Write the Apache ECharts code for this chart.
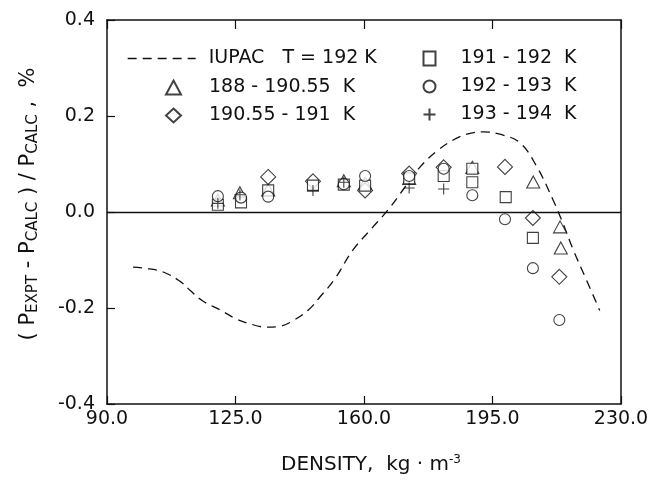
<!DOCTYPE html>
<html><head><meta charset="utf-8">
<script src="https://cdn.jsdelivr.net/npm/echarts@6/dist/echarts.min.js"></script>
<style>html,body{margin:0;padding:0;background:#fff}#c{width:652px;height:481px}</style>
</head><body><div id="c"></div>
<script>
// Axis ticks
const xTicks = [90, 125, 160, 195, 230];
const yTicks = [-0.4, -0.2, 0.0, 0.2, 0.4];

// IUPAC T = 192 K correlation (dashed curve)
const iupacDensity = [97.1, 100, 105.3, 110, 112.6, 116, 120.8, 125, 128.1, 133.6, 137.1, 141, 145, 148, 152, 157, 162, 166.5, 171, 175.3, 180, 184.3, 188, 192.4, 197, 202.5, 207.1, 211.5, 214, 217, 220.5, 224.2];
const iupacDev = [-0.115, -0.117, -0.125, -0.145, -0.163, -0.185, -0.204, -0.222, -0.231, -0.24, -0.238, -0.225, -0.203, -0.177, -0.14, -0.079, -0.035, 0.004, 0.05, 0.094, 0.128, 0.15, 0.162, 0.167, 0.162, 0.144, 0.094, 0.025, -0.02, -0.079, -0.14, -0.205];

// 188 - 190.55 K (triangles)
const triDensity = [120.2, 126.2, 133.9, 154.5, 160.3, 172.3, 189.5, 206.1, 213.4, 213.6];
const triDev = [0.025, 0.04, 0.046, 0.065, 0.06, 0.07, 0.093, 0.0625, -0.031, -0.075];

// 190.55 - 191 K (diamonds)
const diaDensity = [133.9, 146.1, 160.3, 172.3, 181.7, 198.4, 206.0, 213.2];
const diaDev = [0.073, 0.064, 0.045, 0.08, 0.093, 0.094, -0.0125, -0.135];

// 191 - 192 K (squares)
const sqDensity = [120.2, 126.5, 133.9, 146.1, 154.5, 160.3, 172.3, 181.7, 189.5, 189.5, 198.6, 206.0];
const sqDev = [0.015, 0.02, 0.045, 0.055, 0.057, 0.055, 0.07, 0.075, 0.09, 0.062, 0.031, -0.054];

// 192 - 193 K (circles)
const cirDensity = [120.2, 126.5, 133.9, 154.5, 160.3, 172.3, 181.7, 189.5, 198.4, 206.0, 213.2];
const cirDev = [0.033, 0.03, 0.032, 0.058, 0.075, 0.075, 0.09, 0.035, -0.015, -0.117, -0.225];

// 193 - 194 K (plus)
const plusDensity = [120.2, 126.2, 146.1, 154.5, 172.3, 181.7];
const plusDev = [0.018, 0.036, 0.045, 0.062, 0.05, 0.048];

const names = {
  iupac: 'IUPAC   T = 192 K',
  tri: '188 - 190.55  K',
  dia: '190.55 - 191  K',
  sq: '191 - 192  K',
  cir: '192 - 193  K',
  plus: '193 - 194  K'
};

const zip = (a, b) => a.map((v, i) => [v, b[i]]);
const FONT = 'DejaVu Sans';
const INK = '#111';
const PLUS = 'path://M5,0L5,10M0,5L10,5';

const hollow = { color: '#fff', borderColor: INK, borderWidth: 1.1 };
const plusStyle = { color: 'none', borderColor: INK, borderWidth: 1.1 };

const chart = echarts.init(document.getElementById('c'), null, { renderer: 'canvas' });
const legendText = { fontFamily: FONT, fontSize: 19, color: INK };
const axisLineStyle = { show: true, onZero: false, lineStyle: { color: INK, width: 1.5 } };

chart.setOption({
  animation: false,
  backgroundColor: '#fff',
  grid: { left: 107, right: 31, top: 20, bottom: 77, containLabel: false },
  legend: [
    { data: [names.iupac], left: 122, top: 44, orient: 'vertical', itemWidth: 68, itemHeight: 14,
      itemStyle: { opacity: 0 }, lineStyle: { width: 1.3 },
      textStyle: Object.assign({}, legendText, { padding: [0, 0, 0, 8] }), selectedMode: false },
    { data: [{ name: names.tri, icon: 'triangle' }, { name: names.dia, icon: 'diamond' }], left: 160, top: 73, orient: 'vertical',
      itemGap: 9, itemWidth: 15, itemHeight: 14,
      textStyle: Object.assign({}, legendText, { padding: [0, 0, 0, 23] }), selectedMode: false },
    { data: [{ name: names.sq, icon: 'rect' }, { name: names.cir, icon: 'circle' }, { name: names.plus, icon: PLUS }], left: 416, top: 44, orient: 'vertical',
      itemGap: 9, itemWidth: 12, itemHeight: 14,
      textStyle: Object.assign({}, legendText, { padding: [0, 0, 0, 20] }), selectedMode: false }
  ],
  xAxis: [
    { type: 'value', min: xTicks[0], max: xTicks[xTicks.length - 1], interval: 35, position: 'bottom',
      axisLine: axisLineStyle,
      axisTick: { show: true, inside: true, length: 8, lineStyle: { color: INK, width: 1.2 } },
      axisLabel: { fontFamily: FONT, fontSize: 19, color: INK, margin: 6, formatter: v => v.toFixed(1) },
      splitLine: { show: false },
      name: 'DENSITY,  kg · m{sup|-3}', nameLocation: 'middle', nameGap: 50,
      nameTextStyle: { fontFamily: FONT, fontSize: 20, color: INK, padding: [0, 0, 0, 14],
        rich: { sup: { fontFamily: FONT, fontSize: 12, color: INK, verticalAlign: 'top', padding: [0, 0, 10, 0] } } } },
    { type: 'value', min: xTicks[0], max: xTicks[xTicks.length - 1], interval: 35, position: 'top',
      axisLine: axisLineStyle,
      axisTick: { show: true, inside: true, length: 9, lineStyle: { color: INK, width: 1.2 } },
      axisLabel: { show: false }, splitLine: { show: false } }
  ],
  yAxis: [
    { type: 'value', min: yTicks[0], max: yTicks[yTicks.length - 1], interval: 0.2, position: 'left',
      axisLine: axisLineStyle,
      axisTick: { show: true, inside: true, length: 8, lineStyle: { color: INK, width: 1.2 } },
      axisLabel: { fontFamily: FONT, fontSize: 19, color: INK, margin: 12, formatter: v => v.toFixed(1) },
      splitLine: { show: false },
      name: '( P{sub|EXPT} - P{sub|CALC} ) / P{sub|CALC} ,  %', nameLocation: 'middle', nameGap: 66, nameRotate: 90,
      nameTextStyle: { fontFamily: FONT, fontSize: 21, color: INK, padding: [0, 0, 0, 16],
        rich: { sub: { fontFamily: FONT, fontSize: 15, color: INK, verticalAlign: 'bottom', padding: [9, 0, 0, 0] } } } },
    { type: 'value', min: yTicks[0], max: yTicks[yTicks.length - 1], interval: 0.2, position: 'right',
      axisLine: axisLineStyle,
      axisTick: { show: false }, axisLabel: { show: false }, splitLine: { show: false } }
  ],
  series: [
    { name: names.iupac, type: 'line', data: zip(iupacDensity, iupacDev), smooth: 0.4, symbol: 'none',
      lineStyle: { color: INK, width: 1.3, type: [9, 6] }, itemStyle: { color: INK }, z: 3,
      markLine: { silent: true, symbol: ['none', 'none'], label: { show: false },
        lineStyle: { color: INK, width: 1.3, type: 'solid' }, data: [{ yAxis: 0 }] } },
    { name: names.tri, type: 'scatter', data: zip(triDensity, triDev), symbol: 'triangle', symbolSize: [13, 12], itemStyle: hollow, z: 4 },
    { name: names.dia, type: 'scatter', data: zip(diaDensity, diaDev), symbol: 'diamond', symbolSize: [15, 15], itemStyle: hollow, z: 4 },
    { name: names.sq, type: 'scatter', data: zip(sqDensity, sqDev), symbol: 'rect', symbolSize: 11, itemStyle: hollow, z: 4 },
    { name: names.cir, type: 'scatter', data: zip(cirDensity, cirDev), symbol: 'circle', symbolSize: 11, itemStyle: hollow, z: 4 },
    { name: names.plus, type: 'scatter', data: zip(plusDensity, plusDev), symbol: PLUS, symbolSize: 11, itemStyle: plusStyle, z: 5 }
  ]
});
</script>
</body></html>
